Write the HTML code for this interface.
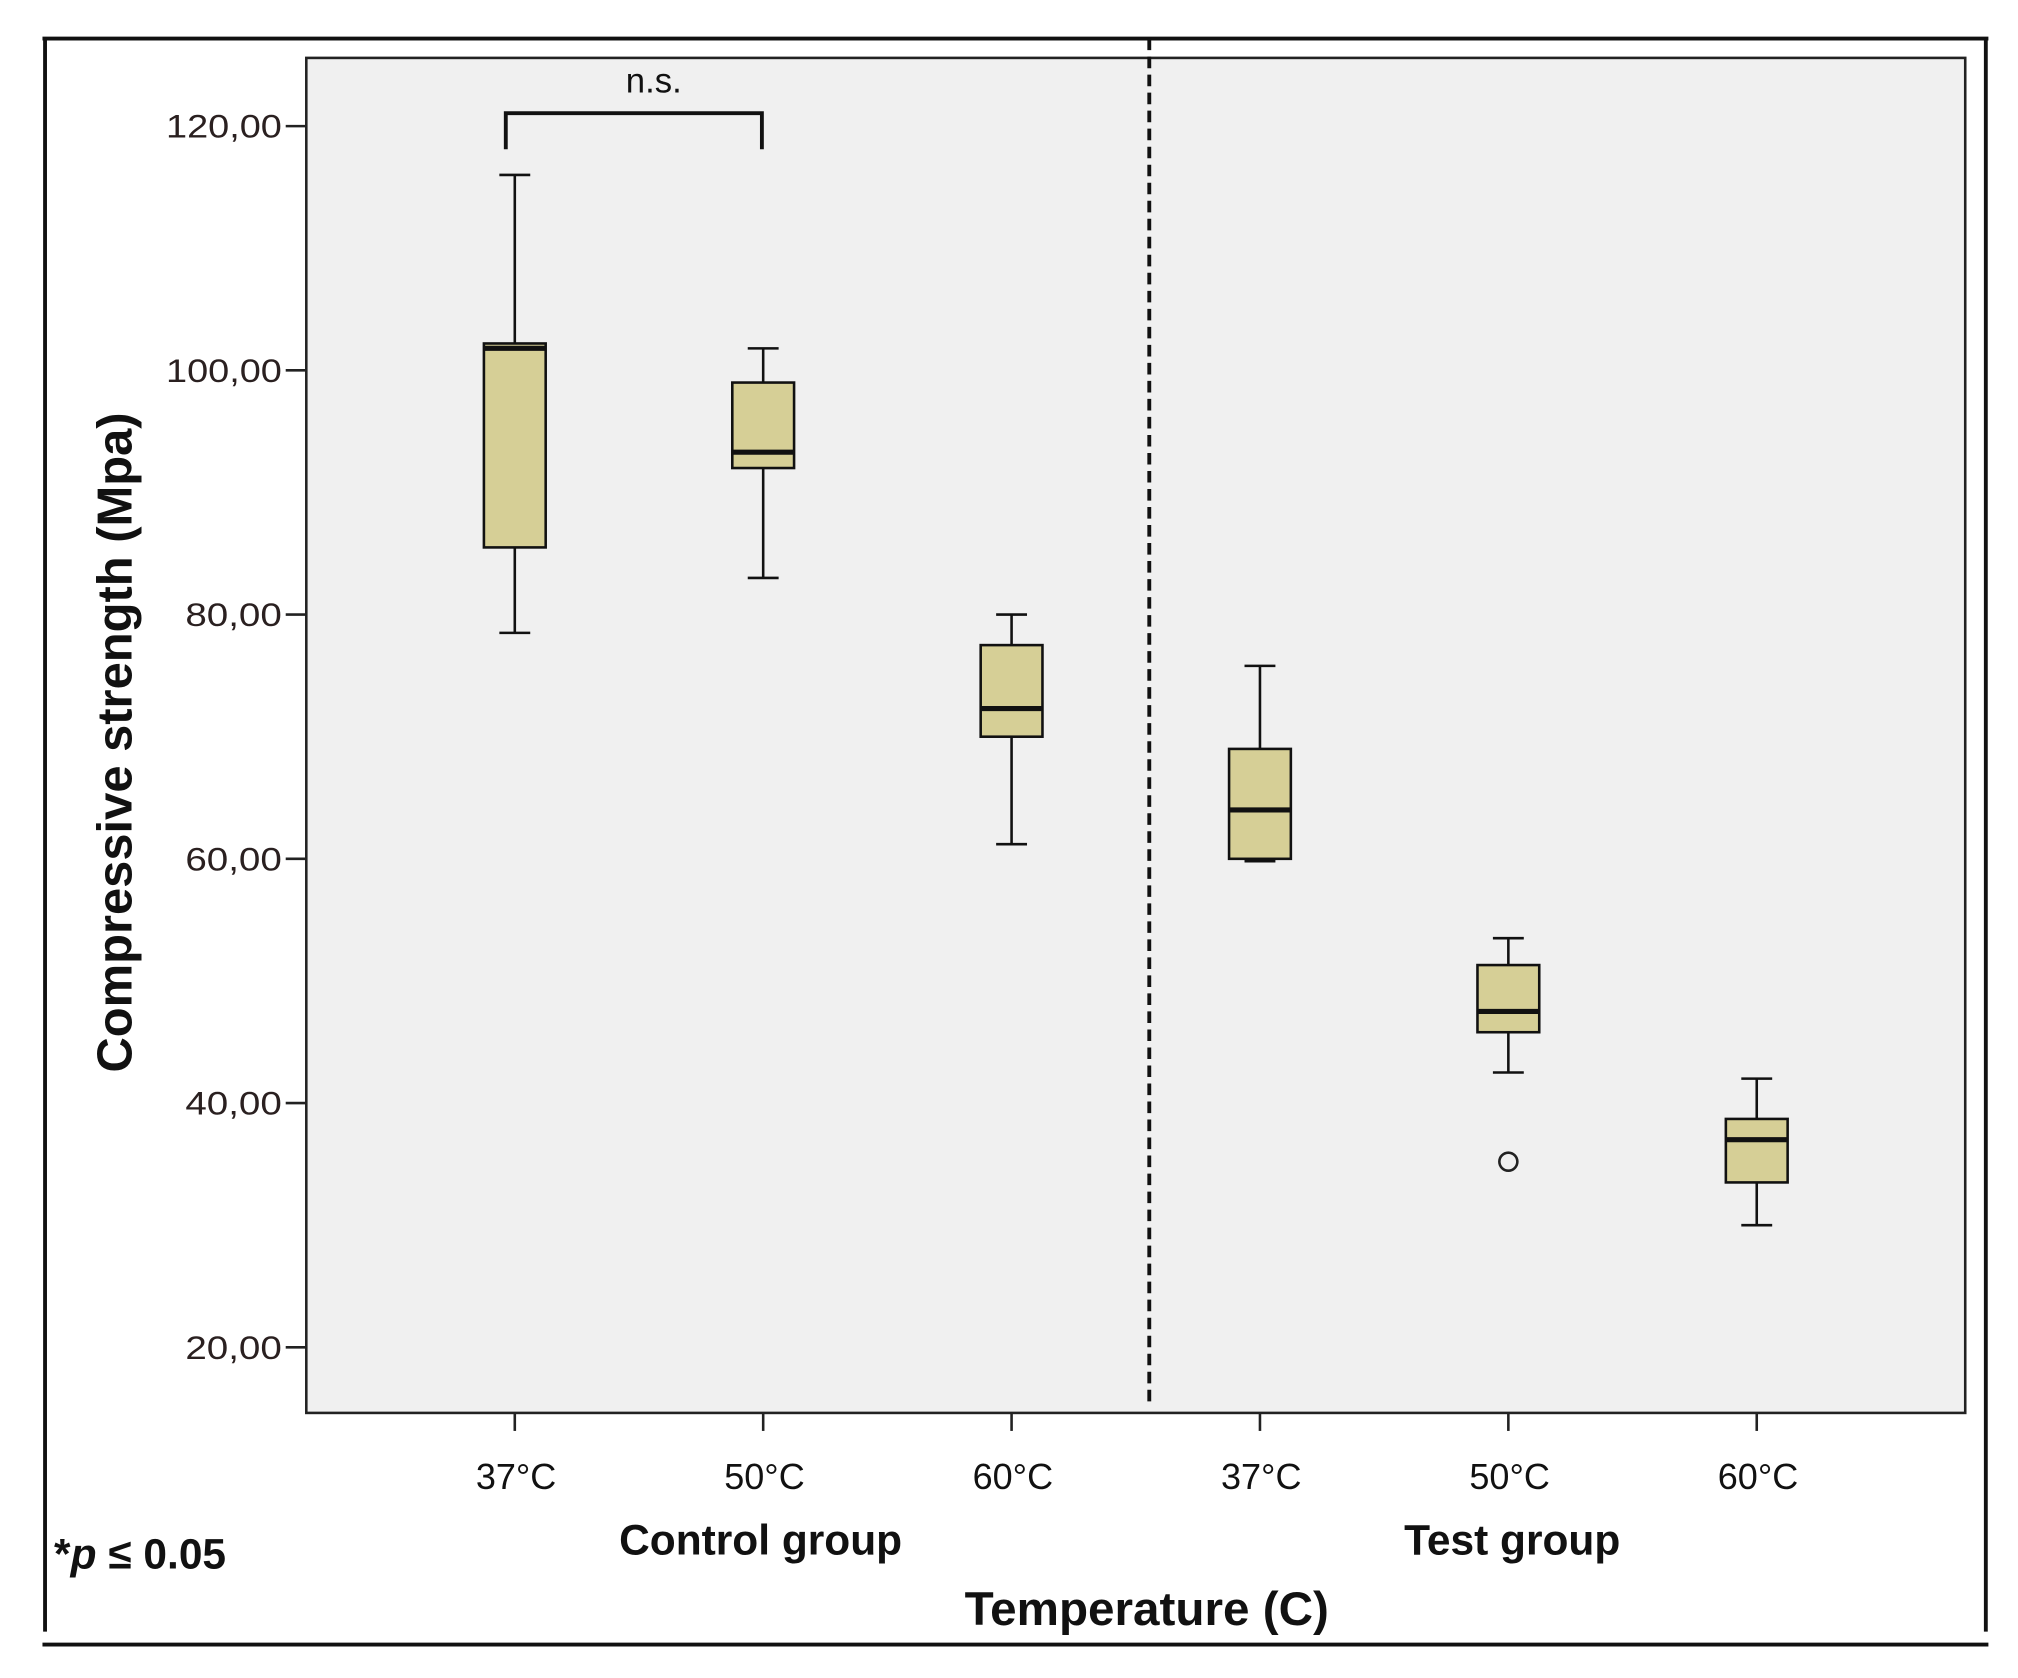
<!DOCTYPE html>
<html><head><meta charset="utf-8"><style>
html,body{margin:0;padding:0;background:#fff;}
svg{display:block;font-family:"Liberation Sans",sans-serif;}
</style></head><body>
<svg id="chart" width="2018" height="1678" viewBox="0 0 1568 1304" preserveAspectRatio="none" xmlns="http://www.w3.org/2000/svg">
<rect x="0" y="0" width="1568" height="1304" fill="#fff"/>
<g stroke="#111" stroke-width="3" fill="none">
<line x1="33" y1="30" x2="1545" y2="30"/>
<line x1="35" y1="30" x2="35" y2="1268"/>
<line x1="1543" y1="30" x2="1543" y2="1268"/>
<line x1="33" y1="1278" x2="1545" y2="1278"/>
</g>
<rect x="238" y="45" width="1289" height="1053" fill="#f0f0f0" stroke="#222" stroke-width="2"/>
<g id="yaxis"></g>
<g id="xaxis"></g>
<g id="boxes"></g>
<line x1="893" y1="30" x2="893" y2="1093" stroke="#111" stroke-width="3" stroke-dasharray="9,5"/>
<g stroke="#111" stroke-width="3" fill="none">
<polyline points="393,116 393,88 592,88 592,116"/>
</g>
<text x="508" y="72" font-size="27" text-anchor="middle" fill="#111">n.s.</text>
<text transform="translate(102,577) rotate(-90)" font-size="38" font-weight="bold" text-anchor="middle" fill="#111">Compressive strength (Mpa)</text>
<text x="591" y="1208" font-size="33" font-weight="bold" text-anchor="middle" fill="#111">Control group</text>
<text x="1175" y="1208" font-size="33" font-weight="bold" text-anchor="middle" fill="#111">Test group</text>
<text x="891" y="1263" font-size="37" font-weight="bold" text-anchor="middle" fill="#111">Temperature (C)</text>
<text x="42" y="1219" font-size="33" font-weight="bold" fill="#111">*<tspan font-style="italic">p</tspan> ≤ 0.05</text>
<script>
const categories = ["37°C","50°C","60°C","37°C","50°C","60°C"];
const whiskerLow = [78.5, 83, 61.2, 59.8, 42.5, 30];
const q1 = [85.5, 92, 70, 60, 45.8, 33.5];
const medians = [101.8, 93.3, 72.3, 64, 47.5, 37];
const q3 = [102.2, 99, 77.5, 69, 51.3, 38.7];
const whiskerHigh = [116, 101.8, 80, 75.8, 53.5, 42];
const outliers = [[], [], [], [], [35.2], []];
const yTicks = [20, 40, 60, 80, 100, 120];
const yTickLabels = ["20,00","40,00","60,00","80,00","100,00","120,00"];

const NS = "http://www.w3.org/2000/svg";
function y(v){ return 1047 - (v - 20) * (949 / 100); }
function x(i){ return 400 + i * 193; }
function mk(tag, attrs, parent){ const e = document.createElementNS(NS, tag); for (const k in attrs) e.setAttribute(k, attrs[k]); parent.appendChild(e); return e; }

const ya = document.getElementById("yaxis");
yTicks.forEach((t, i) => {
  const l = mk("line", {x1:222, x2:238, y1:y(t), y2:y(t), stroke:"#222", "stroke-width":2}, ya);
  
  
  const lbl = yTickLabels[i];
  const tx = mk("text", {x:219, y:y(t)+9, "font-size":25, "text-anchor":"end", fill:"#2a2020", textLength: lbl.length * 15, lengthAdjust:"spacingAndGlyphs"}, ya);
  tx.textContent = lbl;
  
  
});
const xa = document.getElementById("xaxis");
categories.forEach((c, i) => {
  const l = mk("line", {x1:x(i), x2:x(i), y1:1098, y2:1112, stroke:"#222", "stroke-width":2}, xa);
  
  
  const tx = mk("text", {x:x(i)+1, y:1157, "font-size":28, "text-anchor":"middle", fill:"#111"}, xa);
  tx.textContent = c;
  
  
});
const bx = document.getElementById("boxes");
const hw = 24;
categories.forEach((c, i) => {
  const g = mk("g", {}, bx);
  
  
  const cx = x(i);
  const w1 = mk("line", {x1:cx, x2:cx, y1:y(whiskerHigh[i]), y2:y(q3[i]), stroke:"#111", "stroke-width":2}, g);
  
  
  const w2 = mk("line", {x1:cx, x2:cx, y1:y(q1[i]), y2:y(whiskerLow[i]), stroke:"#111", "stroke-width":2}, g);
  
  
  const c1 = mk("line", {x1:cx-12, x2:cx+12, y1:y(whiskerHigh[i]), y2:y(whiskerHigh[i]), stroke:"#111", "stroke-width":2}, g);
  
  
  const c2 = mk("line", {x1:cx-12, x2:cx+12, y1:y(whiskerLow[i]), y2:y(whiskerLow[i]), stroke:"#111", "stroke-width":2}, g);
  
  
  const r = mk("rect", {x:cx-hw, y:y(q3[i]), width:2*hw, height:y(q1[i])-y(q3[i]), fill:"#d6cf96", stroke:"#111", "stroke-width":2}, g);
  
  
  const m = mk("line", {x1:cx-hw, x2:cx+hw, y1:y(medians[i]), y2:y(medians[i]), stroke:"#111", "stroke-width":4}, g);
  
  
  outliers[i].forEach(o => {
    const p = mk("circle", {cx:cx, cy:y(o), r:7, fill:"none", stroke:"#222", "stroke-width":2}, g);
    
    
  });
});
</script>
</svg>
</body></html>
